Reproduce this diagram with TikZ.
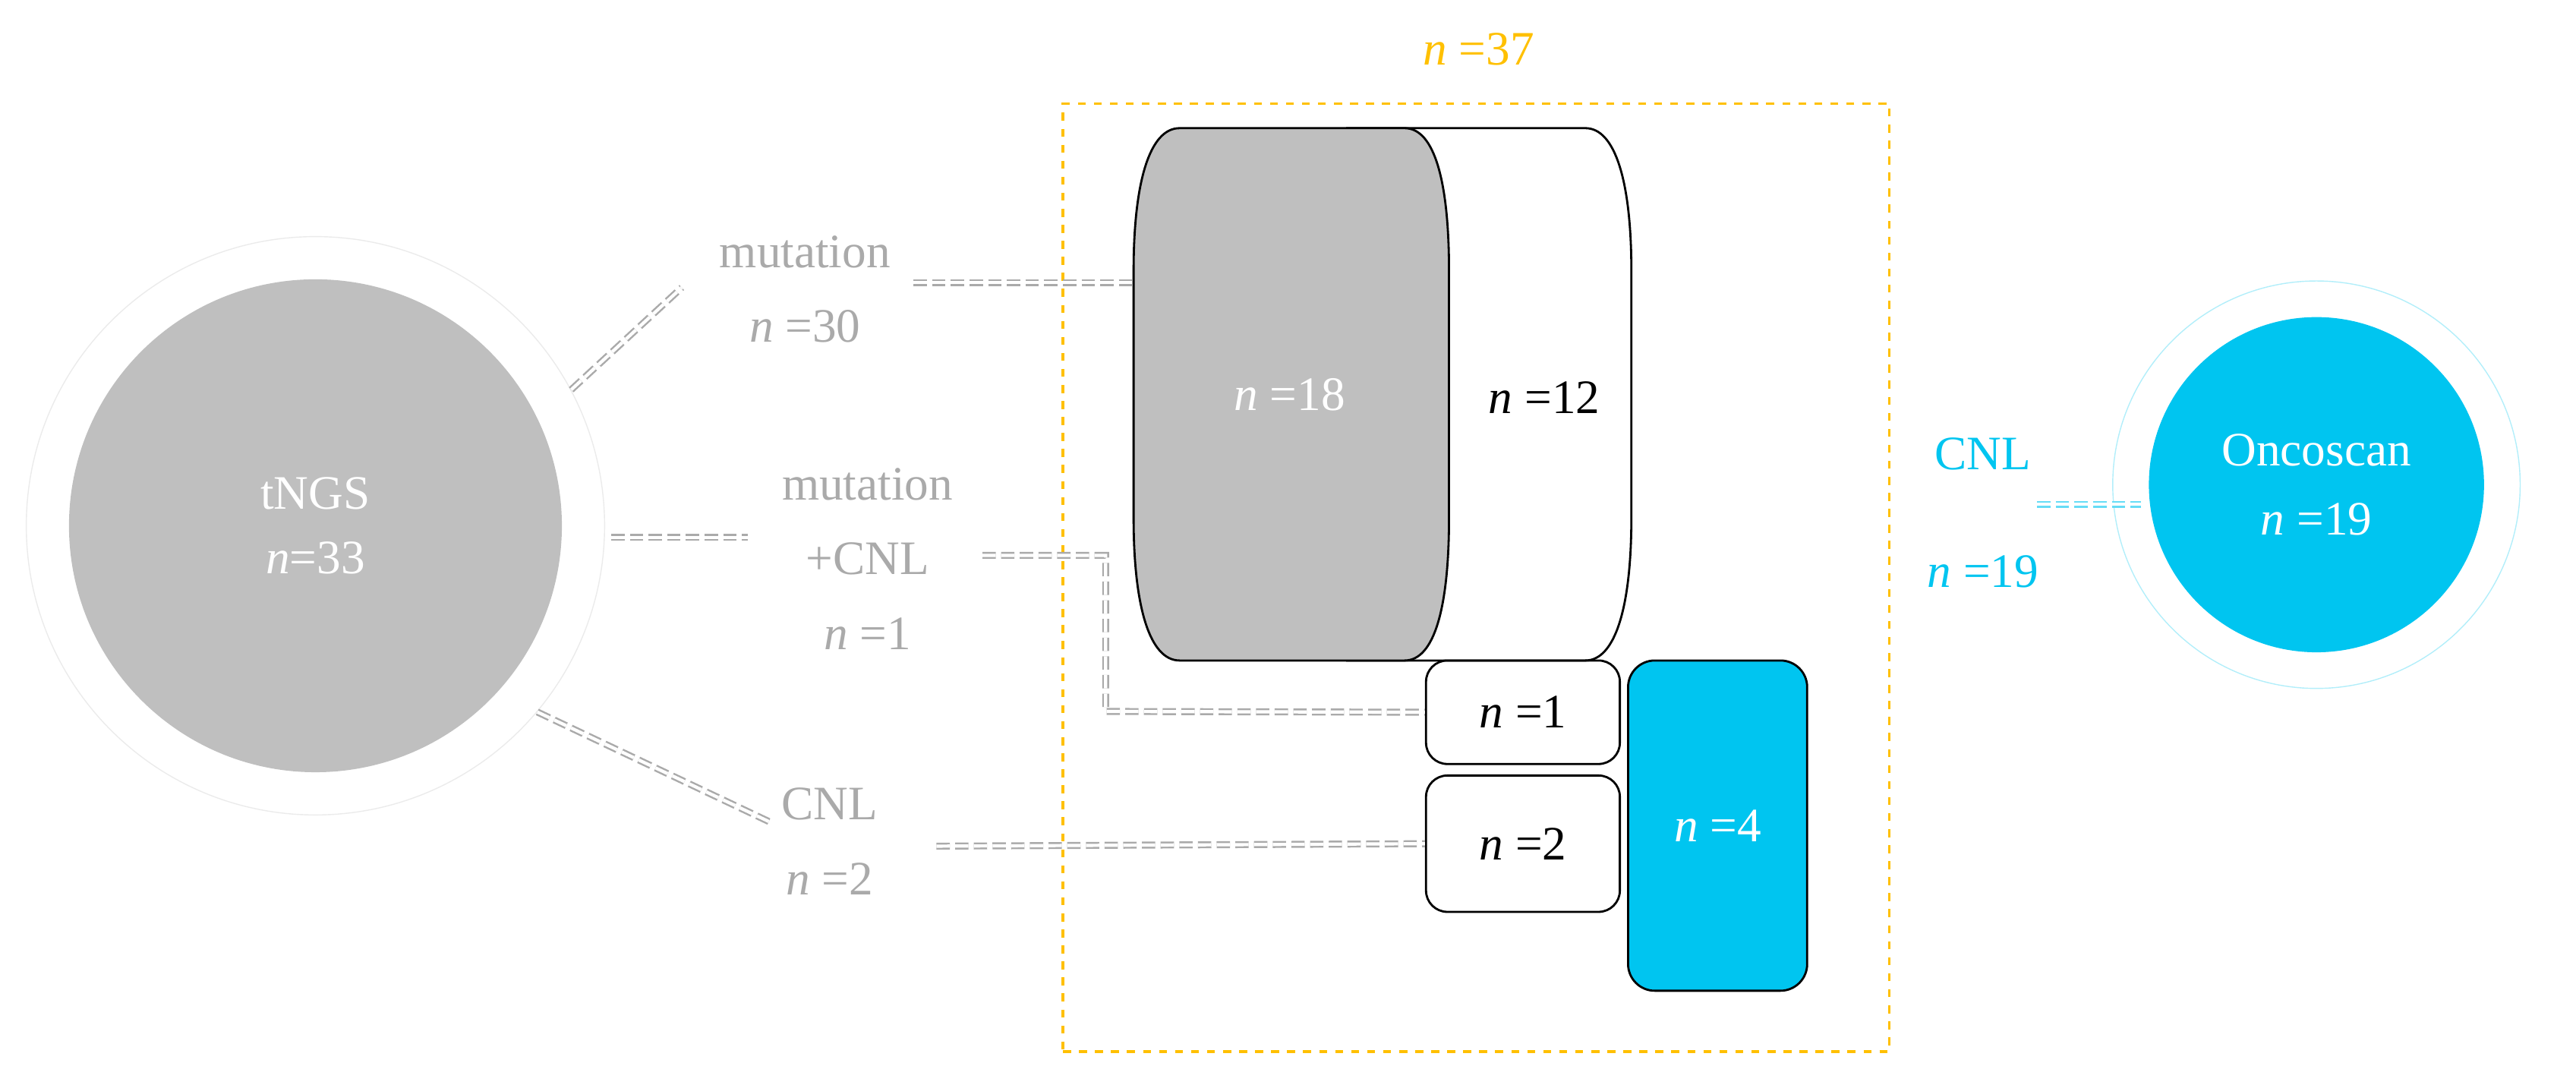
\documentclass[tikz,border=0pt]{standalone}
\usepackage{fontspec}
\setmainfont{Liberation Serif}
\definecolor{cy}{RGB}{0,197,240}
\definecolor{gr}{RGB}{191,191,191}
\definecolor{lab}{RGB}{170,170,170}
\definecolor{yl}{RGB}{255,192,0}
\begin{document}
\begin{tikzpicture}[x=0.02164cm,y=-0.02164cm,
  txt/.style={font=\fontsize{18}{22}\selectfont, align=center, inner sep=0},
  conn/.style={draw=lab, double=white, double distance=1.2pt, line width=0.7pt, dash pattern=on 5pt off 2pt},
  cconn/.style={conn, draw=cy!60}]
\useasboundingbox (0,0) rectangle (1568,660);
% left circle
\node[circle, draw=black!8, line width=0.4pt, minimum size=352*0.02164cm] (ring) at (192,320) {};
\node[circle, fill=gr, minimum size=300*0.02164cm, txt, text=white] (tngs) at (192,320) {tNGS\\[2pt]\textit{n}=33};
% labels
\node[txt, text=lab] (m30) at (490,176) {mutation\\[6pt]\textit{n} =30};
\node[txt, text=lab] (mc) at (528,340) {mutation\\[6pt]+CNL\\[6pt]\textit{n} =1};
\node[txt, text=lab] (c2) at (505,512) {CNL\\[6pt]\textit{n} =2};
% yellow box
\node[draw=yl, dashed, line width=1pt, minimum width=503*0.02164cm, minimum height=577*0.02164cm, inner sep=0] (box) at (898.5,351.5) {};
\node[txt, text=yl] (n37) at (900,30) {\textit{n} =37};
% white barrel
\draw[fill=white, line width=0.8pt] (820,78) -- (965,78) .. controls (983,78) and (993,110) .. (993,165) -- (993,315) .. controls (993,370) and (983,402) .. (965,402) -- (820,402) -- cycle;
\node[txt] (n12) at (940,242) {\textit{n} =12};
% gray barrel
\draw[fill=gr, line width=0.8pt] (718,78) -- (855,78) .. controls (873,78) and (882,110) .. (882,165) -- (882,315) .. controls (882,370) and (873,402) .. (855,402) -- (718,402) .. controls (700,402) and (690,370) .. (690,315) -- (690,165) .. controls (690,110) and (700,78) .. (718,78) -- cycle;
\node[txt, text=white] (n18) at (785,240) {\textit{n} =18};
\coordinate (gb) at (690,172);
% small boxes
\node[draw, rounded corners=8pt, line width=0.8pt, minimum width=118*0.02164cm, minimum height=63*0.02164cm, txt] (n1) at (927,433.5) {\textit{n} =1};
\node[draw, rounded corners=8pt, line width=0.8pt, minimum width=118*0.02164cm, minimum height=83*0.02164cm, txt] (n2) at (927,513.5) {\textit{n} =2};
\node[draw, fill=cy, rounded corners=10pt, line width=0.8pt, minimum width=109*0.02164cm, minimum height=201*0.02164cm, txt, text=white] (n4) at (1045.5,502.5) {\textit{n} =4};
% right
\node[txt, text=cy] (c19) at (1207,312) {CNL\\[22pt]\textit{n} =19};
\node[circle, draw=cy!30, line width=0.4pt, minimum size=248*0.02164cm] (ring2) at (1410,295) {};
\node[circle, fill=cy, minimum size=204*0.02164cm, txt, text=white] (onco) at (1410,295) {Oncoscan\\[4pt]\textit{n} =19};
\coordinate (r2) at (1303,307);
% connectors
\draw[conn] (ring.28) -- (415,175);
\draw[conn] (556,172) -- (gb);
\draw[conn] (372,327) -- (455,327);
\draw[conn] (598,338) -| (673,433) -- (n1.west);
\draw[conn] (ring.-40) -- (468,500);
\draw[conn] (570,515) -- (n2.west);
\draw[cconn] (1240,307) -- (r2);
\end{tikzpicture}
\end{document}
